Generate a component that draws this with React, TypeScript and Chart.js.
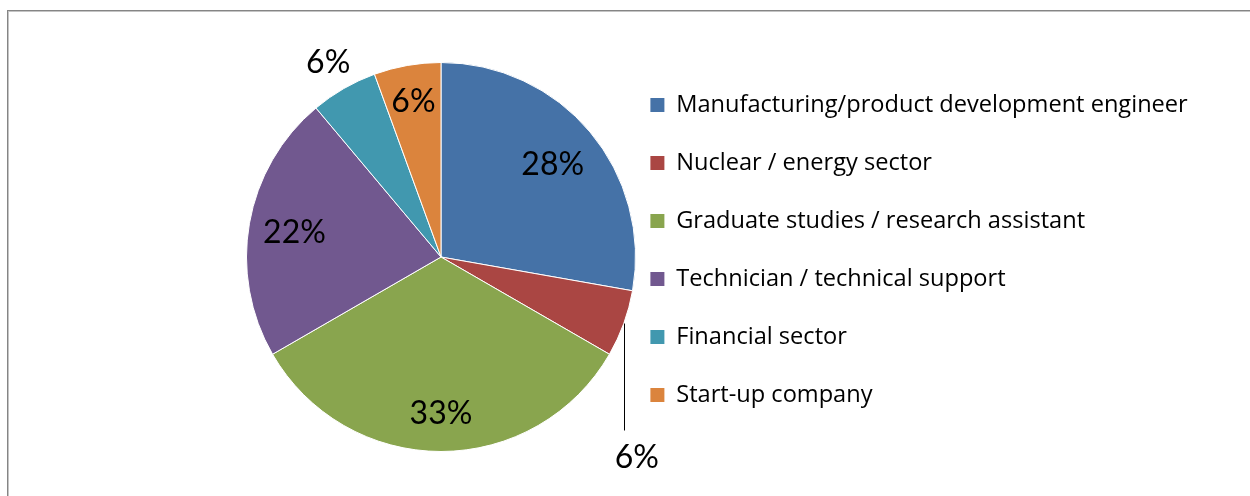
import React, { useEffect, useRef } from 'react';
import { Chart, registerables } from 'chart.js';

Chart.register(...registerables);

// ---- data ----
const categories = [
  'Manufacturing/product development engineer',
  'Nuclear / energy sector',
  'Graduate studies / research assistant',
  'Technician / technical support',
  'Financial sector',
  'Start-up company',
];
const counts = [5, 1, 6, 4, 1, 1];

// ---- style ----
const sliceColors = ['#4572A7', '#AA4643', '#89A54E', '#71588F', '#4198AF', '#DB843D'];
// how each percentage label sits relative to its slice (fraction of radius along mid-angle)
const labelPlacement: { mode: 'inside' | 'outside' | 'callout'; f?: number }[] = [
  { mode: 'inside', f: 0.75 },
  { mode: 'callout' },
  { mode: 'inside', f: 0.8 },
  { mode: 'inside', f: 0.765 },
  { mode: 'outside', f: 1.16 },
  { mode: 'inside', f: 0.815 },
];

const W = 1250;
const H = 496;
const PIE_CX = 441;
const PIE_CY = 257;
const PIE_R = 195;
const LEGEND_X = 616;
const LABEL_FONT = 32;
const LEGEND_FONT = 23.6;

const pieBoxPlugin = {
  id: 'pieBox',
  afterLayout(chart: any) {
    const a = chart.chartArea;
    a.left = PIE_CX - PIE_R;
    a.right = PIE_CX + PIE_R;
    a.top = PIE_CY - PIE_R;
    a.bottom = PIE_CY + PIE_R;
    a.width = 2 * PIE_R;
    a.height = 2 * PIE_R;
    const lg = chart.legend;
    if (lg) {
      const w = lg.width;
      lg.left = LEGEND_X;
      lg.right = LEGEND_X + w;
    }
  },
};

const pctLabelPlugin = {
  id: 'pctLabels',
  afterDatasetsDraw(chart: any) {
    const ctx = chart.ctx;
    const meta = chart.getDatasetMeta(0);
    const data = chart.data.datasets[0].data as number[];
    const total = data.reduce((s, v) => s + v, 0);
    ctx.save();
    ctx.font = `${LABEL_FONT}px Lato`;
    ctx.fillStyle = '#000';
    ctx.textAlign = 'center';
    ctx.textBaseline = 'alphabetic';
    const dy = LABEL_FONT * 0.36;
    meta.data.forEach((arc: any, i: number) => {
      const { x, y, startAngle, endAngle, outerRadius } = arc.getProps(
        ['x', 'y', 'startAngle', 'endAngle', 'outerRadius'],
        true
      );
      const mid = (startAngle + endAngle) / 2;
      const text = `${Math.round((data[i] / total) * 100)}%`;
      const p = labelPlacement[i];
      if (p.mode === 'callout') {
        const ex = x + Math.cos(mid) * outerRadius;
        const ey = y + Math.sin(mid) * outerRadius;
        const len = outerRadius * 0.55;
        ctx.strokeStyle = '#000';
        ctx.lineWidth = 1;
        ctx.beginPath();
        ctx.moveTo(Math.round(ex) + 0.5, ey);
        ctx.lineTo(Math.round(ex) + 0.5, ey + len);
        ctx.stroke();
        ctx.fillText(text, ex + 13, ey + len + 26 + dy);
      } else {
        const f = p.f ?? 0.78;
        const lx = x + Math.cos(mid) * outerRadius * f;
        const ly = y + Math.sin(mid) * outerRadius * f;
        ctx.fillText(text, lx, ly + dy);
      }
    });
    ctx.restore();
  },
};

export default function App() {
  const ref = useRef<HTMLCanvasElement | null>(null);
  useEffect(() => {
    if (!ref.current) return;
    const chart = new Chart(ref.current, {
      type: 'pie',
      data: {
        labels: categories,
        datasets: [
          {
            data: counts,
            backgroundColor: sliceColors,
            borderColor: '#ffffff',
            borderWidth: 1,
          },
        ],
      },
      options: {
        responsive: false,
        animation: false,
        devicePixelRatio: 1,
        layout: { padding: { top: 4, bottom: 0, left: 0, right: 0 } },
        plugins: {
          tooltip: { enabled: false },
          legend: {
            position: 'right',
            align: 'center',
            labels: {
              font: { family: 'Open Sans', size: LEGEND_FONT },
              color: '#000',
              boxWidth: 14,
              boxHeight: 14,
              padding: 58 - LEGEND_FONT,
              generateLabels: (c: any) =>
                (Chart as any).overrides.pie.plugins.legend.labels
                  .generateLabels(c)
                  .map((l: any) => ({ ...l, lineWidth: 0 })),
            },
          },
        },
      } as any,
      plugins: [pieBoxPlugin, pctLabelPlugin],
    });
    return () => chart.destroy();
  }, []);

  return (
    <div
      style={{
        position: 'fixed',
        left: 0,
        top: 0,
        width: W,
        height: H,
        overflow: 'hidden',
        background: '#fff',
      }}
    >
      <div
        style={{
          position: 'absolute',
          left: 7,
          top: 10,
          width: W + 50,
          height: H + 50,
          borderLeft: '1px solid #858585',
          borderTop: '1px solid #858585',
          boxShadow: 'inset 1px 1px 0 #c4c4c4',
        }}
      />
      <canvas
        ref={ref}
        width={W}
        height={H}
        style={{ position: 'absolute', left: 0, top: 0, width: W, height: H }}
      />
    </div>
  );
}
